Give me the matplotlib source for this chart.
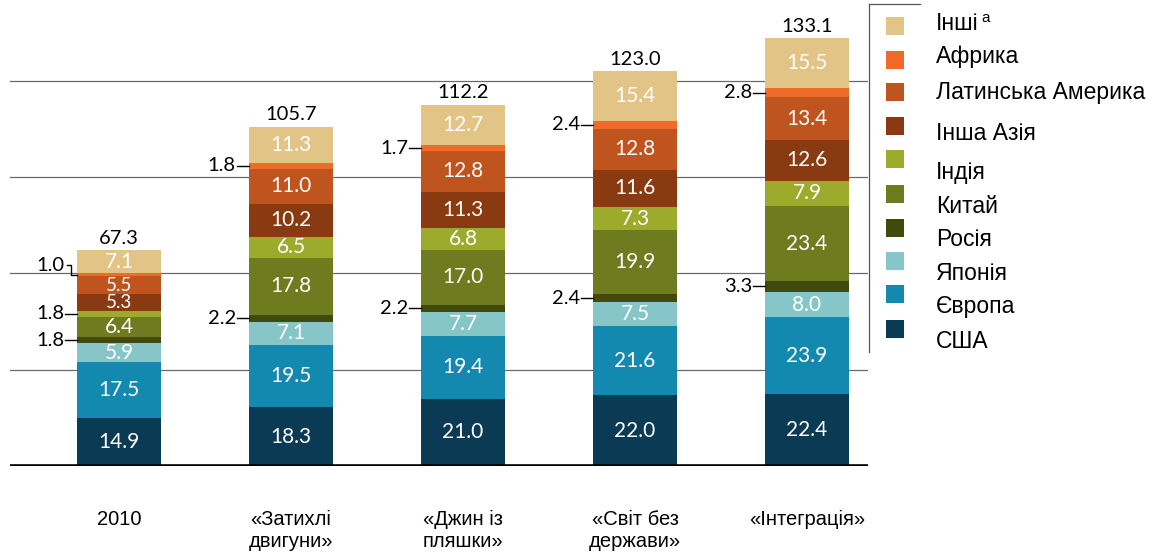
import numpy as np
import matplotlib
matplotlib.use("Agg")
import matplotlib.pyplot as plt
from matplotlib.patches import Rectangle

categories = ["2010", "«Затихлі\nдвигуни»", "«Джин із\nпляшки»", "«Світ без\nдержави»", "«Інтеграція»"]
totals = [67.3, 105.7, 112.2, 123.0, 133.1]
# bottom -> top
series = ["США", "Європа", "Японія", "Росія", "Китай", "Індія", "Інша Азія",
          "Латинська Америка", "Африка", "Інші"]
usa = [14.9, 18.3, 21.0, 22.0, 22.4]
europe = [17.5, 19.5, 19.4, 21.6, 23.9]
japan = [5.9, 7.1, 7.7, 7.5, 8.0]
russia = [1.8, 2.2, 2.2, 2.4, 3.3]
china = [6.4, 17.8, 17.0, 19.9, 23.4]
india = [1.8, 6.5, 6.8, 7.3, 7.9]
other_asia = [5.3, 10.2, 11.3, 11.6, 12.6]
latam = [5.5, 11.0, 12.8, 12.8, 13.4]
africa = [1.0, 1.8, 1.7, 2.4, 2.8]
others = [7.1, 11.3, 12.7, 15.4, 15.5]
colors = ["#0B3A55", "#1489B0", "#86C6C9", "#404A0C", "#6E7B1F", "#9CAB2C",
          "#8A3A10", "#C0541F", "#EE6B2A", "#E3C487"]
values = [usa, europe, japan, russia, china, india, other_asia, latam, africa, others]
# segments labelled outside the bar: (series index, category index)
outside = {(3, 0), (5, 0), (8, 0), (3, 1), (8, 1), (3, 2), (8, 2), (3, 3), (8, 3), (3, 4), (8, 4)}

VAL_FONT = "Lato"
TXT_FONT = "Liberation Sans"

fig = plt.figure(figsize=(11.62, 5.53), dpi=100)
ax = fig.add_axes([10 / 1162, 1 - 466 / 553, 858 / 1162, 466 / 553])
x = np.arange(len(categories))
w = 0.49
ax.set_xlim(-0.634, 4.355)
ax.set_ylim(0, 466 / 3.21)
for g in [30, 60, 90, 120]:
    ax.axhline(g, color="#6b6b6b", lw=0.9, zorder=0)
ax.axhline(0, color="black", lw=2.6, zorder=4)

bottom = np.zeros(len(categories))
for si, (vals, c) in enumerate(zip(values, colors)):
    vals = np.array(vals)
    ax.bar(x, vals, w, bottom=bottom, color=c, zorder=2, linewidth=0)
    for ci in range(len(categories)):
        mid = bottom[ci] + vals[ci] / 2
        if (si, ci) in outside:
            xe = x[ci] - w / 2
            if (si, ci) == (8, 0):
                ty = mid + 3.0
                ax.plot([xe - 0.06, xe - 0.035, xe - 0.035, xe], [ty, ty, mid, mid],
                        color="black", lw=1.0, zorder=3)
            else:
                ty = mid
                ax.plot([xe - 0.07, xe], [mid, mid], color="black", lw=1.0, zorder=3)
            ax.text(xe - 0.075, ty, f"{vals[ci]:.1f}", ha="right", va="center",
                    fontsize=14.5, family=VAL_FONT, color="black")
        else:
            fs = 15 if vals[ci] >= 5.8 else 13.5   # thin segments: a bit smaller
            ax.text(x[ci], mid, f"{vals[ci]:.1f}", ha="center", va="center",
                    fontsize=fs, family=VAL_FONT, color="white", zorder=3)
    bottom += vals

for ci, t in enumerate(totals):
    ax.text(x[ci], bottom[ci] + 1.0, f"{t:.1f}", ha="center", va="bottom",
            fontsize=14.5, family=VAL_FONT, color="black")

for ci, lab in enumerate(categories):
    ax.text(x[ci], -13.6, lab, ha="center", va="top", fontsize=14.5,
            family=TXT_FONT, color="black", linespacing=1.2, clip_on=False)

ax.axis("off")

# legend panel
fig.add_artist(plt.Line2D([869 / 1162, 869 / 1162], [1 - 4 / 553, 1 - 352 / 553],
                          color="#555555", lw=0.9, transform=fig.transFigure))
fig.add_artist(plt.Line2D([869 / 1162, 920 / 1162], [1 - 4 / 553, 1 - 4 / 553],
                          color="#555555", lw=0.9, transform=fig.transFigure))
sq_y = [26, 60, 92, 126, 159, 194, 228, 261, 294, 329]
tx_y = [24, 56, 93, 133, 172, 206, 240, 273, 307, 342]
for i, si in enumerate(range(len(series) - 1, -1, -1)):
    fig.add_artist(Rectangle((886 / 1162, 1 - (sq_y[i] + 9) / 553), 18 / 1162, 18 / 553,
                             color=colors[si], transform=fig.transFigure, lw=0))
    fig.text(936 / 1162, 1 - tx_y[i] / 553, series[si], ha="left", va="center",
             fontsize=16.5, family=TXT_FONT)
# footnote marker on "Інші"
fig.text(981 / 1162, 1 - 18 / 553, "a", ha="left", va="center", fontsize=11,
         family=TXT_FONT)

fig.savefig("out.png", dpi=100)
